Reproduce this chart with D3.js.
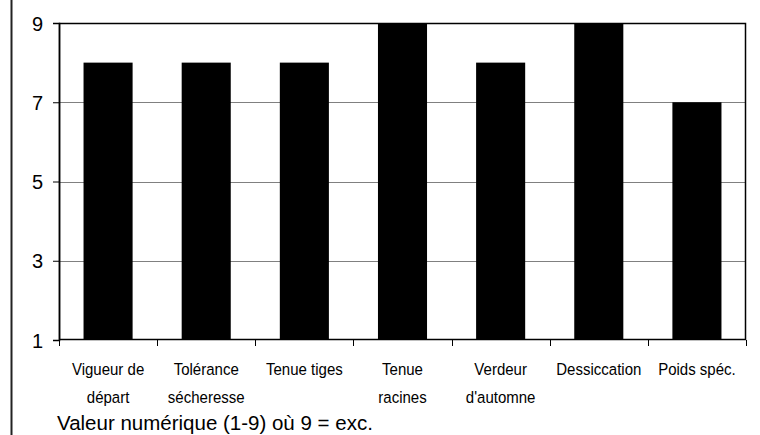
<!DOCTYPE html>
<html><head><meta charset="utf-8">
<script src="https://cdn.jsdelivr.net/npm/d3@7"></script>
<style>body{margin:0;background:#fff;}svg{display:block;font-family:"Liberation Sans",Arial,sans-serif;}</style>
</head><body>
<svg id="c" width="760" height="435"></svg>
<script>
const categories = [["Vigueur de","départ"],["Tolérance","sécheresse"],["Tenue tiges"],["Tenue","racines"],["Verdeur","d'automne"],["Dessiccation"],["Poids spéc."]];
const values = [8,8,8,9,8,9,7];
const yTicks = [1,3,5,7,9];
const footer = "Valeur numérique (1-9) où 9 = exc.";

const svg = d3.select("#c");
const m = {l:59, r:746, t:23, b:340};
const keys = categories.map(c=>c.join(" "));
const x = d3.scaleBand().domain(keys).range([m.l,m.r]).paddingInner(0.5).paddingOuter(0.25);
const y = d3.scaleLinear().domain([1,9]).range([m.b,m.t]);

// left page border
svg.append("line").attr("x1",11.5).attr("x2",11.5).attr("y1",0).attr("y2",435).attr("stroke","#222").attr("stroke-width",2);

// gridlines
svg.append("g").selectAll("line").data(yTicks.filter(d=>d>1&&d<9)).join("line")
  .attr("x1",m.l).attr("x2",m.r).attr("y1",d=>Math.round(y(d))+0.5).attr("y2",d=>Math.round(y(d))+0.5)
  .attr("stroke","#808080").attr("stroke-width",1);

// bars
svg.append("g").selectAll("rect").data(values).join("rect")
  .attr("x",(d,i)=>x(keys[i])).attr("width",x.bandwidth())
  .attr("y",d=>y(d)).attr("height",d=>y(1)-y(d)).attr("fill","#000");

// frame
svg.append("rect").attr("x",m.l+0.5).attr("y",m.t+0.5).attr("width",m.r-m.l-1).attr("height",m.b-m.t-1)
  .attr("fill","none").attr("stroke","#000").attr("stroke-width",1.5);

// y axis
const ya = d3.axisLeft(y).tickValues(yTicks).tickSize(6).tickPadding(10).tickFormat(d3.format("d"));
const gy = svg.append("g").attr("transform",`translate(${m.l},0)`).call(ya);
gy.select(".domain").attr("stroke","#000").attr("stroke-width",1.5);
gy.selectAll(".tick line").attr("stroke","#000");
gy.selectAll(".tick text").attr("font-size",20).attr("font-family","Liberation Sans, Arial, sans-serif").attr("fill","#000").attr("dy","0.36em");

// x axis boundary ticks
const bounds = d3.range(keys.length+1).map(i=>m.l + i*(m.r-m.l)/keys.length);
svg.append("g").selectAll("line").data(bounds).join("line")
  .attr("x1",d=>Math.round(d)+0.5).attr("x2",d=>Math.round(d)+0.5).attr("y1",m.b).attr("y2",m.b+6)
  .attr("stroke","#000");

// x labels (slightly condensed)
const gl = svg.append("g");
categories.forEach((c,i)=>{
  const cx = x(keys[i]) + x.bandwidth()/2;
  const t = gl.append("text").attr("transform",`translate(${cx},375) scale(0.91,1)`).attr("text-anchor","middle")
    .attr("font-size",16.5).attr("fill","#000");
  c.forEach((line,j)=>{
    t.append("tspan").attr("x",0).attr("y",j*28).text(line);
  });
});

// footer
svg.append("text").attr("x",57).attr("y",430).attr("font-size",20.5).attr("fill","#000").text(footer);
</script>
</body></html>
